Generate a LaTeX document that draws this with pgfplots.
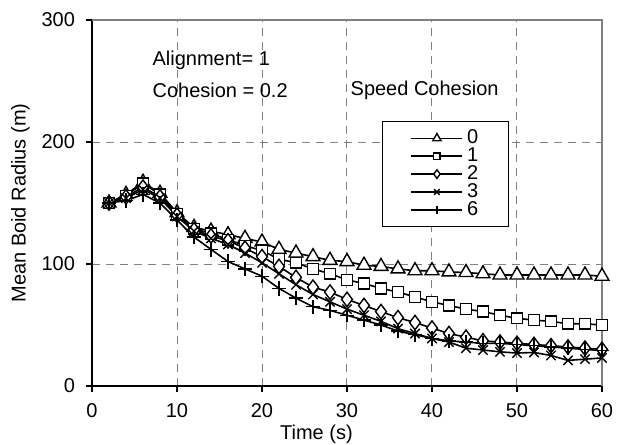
\documentclass[border=0pt]{standalone}
\usepackage{pgfplots}
\pgfplotsset{compat=1.18}
\usepackage{pgfplotstable}
\usepackage{fontspec}
\setmainfont{Liberation Sans}
\pgfplotstableread{
t    s0    s1    s2    s3    s4
2    150   150   150   150   150
4    157   156   155   154   152
6    167   166   163   161   157
8    158   157   155   154   150
10   142   141   140   139   136
12   130   129   128   127   122
14   127   125   123   121   112
16   124   120   119   116   102
18   121   115   113   109   96
20   118   111   106   101   90
22   112   104   98    92    80
24   109   101   89    83    72
26   106   96    81    75    65
28   103   92    77    69    62
30   102   87    71    63    58
32   99    84    66    58    54
34   98    80    61    53    50
36   96    77    56    47    45
38   94.5  73    52    43    42
40   94.5  69    47.5  39    39
42   93.5  66    43    36    37
44   93    63    40    31    36
46   92    61    37    29.5  35
48   91    58    36    28    35
50   91    55.5  35    27    34
52   91    54    34    27.5  33
54   91    53    33    25    32
56   91    51    32    21    31
58   91    51    31    22    30
60   90    50    30    23    29
}\datatable
\begin{document}
\begin{tikzpicture}
\begin{axis}[
  scale only axis,
  width=255pt, height=183pt,
  xmin=0, xmax=60, ymin=0, ymax=300,
  xtick={0,10,...,60}, ytick={0,100,200,300},
  axis x line*=bottom, axis y line*=left,
  axis line style={black, line width=0.6pt},
  tick align=outside, major tick length=3pt,
  tick style={black, line width=0.6pt},
  grid=major,
  major grid style={gray, dash pattern=on 4pt off 3pt, line width=0.5pt},
  /pgf/number format/assume math mode=true,
  ticklabel style={font=\fontsize{10}{12}\selectfont},
  xticklabel style={yshift=-2pt},
  yticklabel style={xshift=-2pt},
  xlabel={Time (s)}, ylabel={Mean Boid Radius (m)},
  xlabel style={at={(ticklabel cs:0.44)}, anchor=north, yshift=3pt},
  ylabel style={yshift=-1pt},
  clip=false,
  legend cell align=left,
  legend style={at={(axis cs:34.1,217)}, anchor=north west, draw=black, line width=0.6pt, fill=white,
    font=\fontsize{10}{10}\selectfont, row sep=-3.5pt, inner ysep=2pt, inner xsep=1pt},
  every axis plot/.append style={black, line width=0.8pt, mark options={fill=white, solid, line width=0.7pt}},
]
\pgfplotsset{legend image code/.code={\draw[draw=none] (0pt,0pt) -- (13.5pt,0pt); \draw[#1, line width=0.8pt] (13.5pt,0pt) -- (39pt,0pt); \draw[#1, line width=0.8pt, every mark/.append style={scale=0.6}] plot coordinates {(26.25pt,0pt)};}}
\addplot[mark=triangle*, mark size=4pt] table[x=t,y=s0]{\datatable};
\addplot[mark=square*, mark size=2.7pt] table[x=t,y=s1]{\datatable};
\addplot[mark=diamond*, mark size=3.6pt] table[x=t,y=s2]{\datatable};
\addplot[mark=x, mark size=3.3pt] table[x=t,y=s3]{\datatable};
\addplot[mark=+, mark size=3.6pt] table[x=t,y=s4]{\datatable};
\legend{\makebox[17.5pt][l]{0},1,2,3,6}
\draw[gray, line width=0.6pt] (rel axis cs:0,1) -- (rel axis cs:1,1) -- (rel axis cs:1,0);
\node[anchor=west, font=\fontsize{10}{12}\selectfont] at (axis cs:6.3,267) {Alignment= 1};
\node[anchor=west, font=\fontsize{10}{12}\selectfont] at (axis cs:6.3,242.6) {Cohesion = 0.2};
\node[anchor=west, font=\fontsize{10}{12}\selectfont] at (axis cs:29.6,242.6) {Speed Cohesion};
\coordinate (ll) at (rel axis cs:0,0);
\coordinate (ur) at (rel axis cs:1,1);
\end{axis}
\pgfresetboundingbox
\path ([shift={(-46pt,-29pt)}]ll) rectangle ([shift={(16.5pt,10pt)}]ur);
\end{tikzpicture}
\end{document}
